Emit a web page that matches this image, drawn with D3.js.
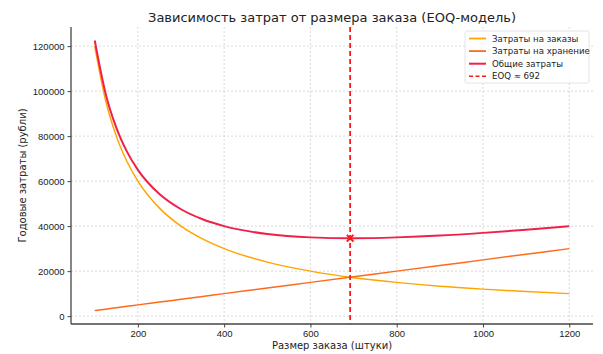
<!DOCTYPE html>
<html>
<head>
<meta charset="utf-8">
<script src="https://cdn.jsdelivr.net/npm/d3@7"></script>
<style>
  body { margin: 0; background: #fff; }
  svg { font-family: "DejaVu Sans", sans-serif; }
</style>
</head>
<body>
<svg id="chart" width="603" height="354"></svg>
<script>
// order sizes (units) and costs
const orderSizes = [100, 125, 150, 175, 200, 250, 300, 350, 400, 500, 600, 700, 800, 900, 1000, 1100, 1200];
const orderingCost = [120000, 96000, 80000, 68600, 60000, 48000, 40000, 34300, 30000, 24000, 20000, 17100, 15000, 13300, 12000, 10900, 10000];
const holdingCost = [2500, 3100, 3750, 4400, 5000, 6250, 7500, 8750, 10000, 12500, 15000, 17500, 20000, 22500, 25000, 27500, 30000];
const totalCost = [122500, 99100, 83750, 73000, 65000, 54250, 47500, 43050, 40000, 36500, 35000, 34600, 35000, 35800, 37000, 38400, 40000];
const eoq = 692;
const eoqCost = 34641;
const xTicks = [200, 400, 600, 800, 1000, 1200];
const yTicks = [0, 20000, 40000, 60000, 80000, 100000, 120000];
const seriesNames = ["Затраты на заказы", "Затраты на хранение", "Общие затраты", "EOQ ≈ 692"];

const svg = d3.select("#chart");
const plotL = 71, plotR = 593, plotT = 27, plotB = 324;

const x = d3.scaleLinear().domain([45, 1255]).range([plotL, plotR]);
const y = d3.scaleLinear().domain([-3500, 128500]).range([plotB, plotT]);

// grid
const grid = svg.append("g");
grid.selectAll(".gx").data(xTicks).enter().append("line")
  .attr("x1", d => x(d)).attr("x2", d => x(d))
  .attr("y1", plotT).attr("y2", plotB)
  .attr("stroke", "#d0d0d0").attr("stroke-width", 0.8).attr("stroke-dasharray", "2,2");
grid.selectAll(".gy").data(yTicks).enter().append("line")
  .attr("x1", plotL).attr("x2", plotR)
  .attr("y1", d => y(d)).attr("y2", d => y(d))
  .attr("stroke", "#d0d0d0").attr("stroke-width", 0.8).attr("stroke-dasharray", "2,2");

// axes
const xAxis = svg.append("g").attr("transform", `translate(0,${plotB})`)
  .call(d3.axisBottom(x).tickValues(xTicks).tickSize(3.5).tickPadding(3).tickFormat(d3.format("d")));
const yAxis = svg.append("g").attr("transform", `translate(${plotL},0)`)
  .call(d3.axisLeft(y).tickValues(yTicks).tickSize(3.5).tickPadding(3).tickFormat(d3.format("d")));
[xAxis, yAxis].forEach(a => {
  a.select(".domain").attr("stroke", "#444").attr("stroke-width", 1.3);
  a.selectAll(".tick line").attr("stroke", "#444");
  a.selectAll("text").attr("fill", "#222").style("font-size", "9.5px");
});
xAxis.select(".domain").attr("d", `M${plotL},0H${plotR}`);
yAxis.select(".domain").attr("d", `M0,${plotB}V${plotT}`);

// curves
const pts = vals => orderSizes.map((q, i) => [q, vals[i]]);
const line = d3.line().x(d => x(d[0])).y(d => y(d[1])).curve(d3.curveMonotoneX);

svg.append("path").datum(pts(orderingCost)).attr("d", line)
  .attr("fill", "none").attr("stroke", "#ffa500").attr("stroke-width", 1.5);
svg.append("path").datum(pts(holdingCost)).attr("d", line)
  .attr("fill", "none").attr("stroke", "#ff6a1a").attr("stroke-width", 1.5);
svg.append("path").datum(pts(totalCost)).attr("d", line)
  .attr("fill", "none").attr("stroke", "#f0204a").attr("stroke-width", 2);

// EOQ line and marker
svg.append("line")
  .attr("x1", x(eoq)).attr("x2", x(eoq)).attr("y1", plotT).attr("y2", plotB)
  .attr("stroke", "#ff1a1a").attr("stroke-width", 1.8).attr("stroke-dasharray", "5,3");
svg.append("path")
  .attr("d", d3.symbol(d3.symbolX).size(30))
  .attr("transform", `translate(${x(eoq)},${y(eoqCost)})`)
  .attr("fill", "none").attr("stroke", "#ff1a1a").attr("stroke-width", 2);

// labels
svg.append("text").attr("x", (plotL + plotR) / 2).attr("y", 22)
  .attr("text-anchor", "middle").attr("fill", "#222").style("font-size", "13px")
  .text("Зависимость затрат от размера заказа (EOQ-модель)");
svg.append("text").attr("x", (plotL + plotR) / 2).attr("y", 349)
  .attr("text-anchor", "middle").attr("fill", "#222").style("font-size", "10px")
  .text("Размер заказа (штуки)");
svg.append("text").attr("transform", `translate(26,${(plotT + plotB) / 2}) rotate(-90)`)
  .attr("text-anchor", "middle").attr("fill", "#222").style("font-size", "10px")
  .text("Годовые затраты (рубли)");

// legend
const legend = svg.append("g").attr("transform", "translate(465,31)");
legend.append("rect").attr("width", 124).attr("height", 52).attr("rx", 2)
  .attr("fill", "#fff").attr("fill-opacity", 0.85).attr("stroke", "#ddd").attr("stroke-width", 0.8);
const legendStyle = [
  { color: "#ffa500", width: 1.8, dash: null },
  { color: "#ff6a1a", width: 1.8, dash: null },
  { color: "#f0204a", width: 2, dash: null },
  { color: "#ff1a1a", width: 1.5, dash: "4,2.5" }
];
seriesNames.forEach((name, i) => {
  const yy = 7.5 + i * 12.6;
  legend.append("line").attr("x1", 4).attr("x2", 21).attr("y1", yy).attr("y2", yy)
    .attr("stroke", legendStyle[i].color).attr("stroke-width", legendStyle[i].width)
    .attr("stroke-dasharray", legendStyle[i].dash);
  legend.append("text").attr("x", 27).attr("y", yy + 3).attr("fill", "#222")
    .style("font-size", "8.6px").text(name);
});
</script>
</body>
</html>
